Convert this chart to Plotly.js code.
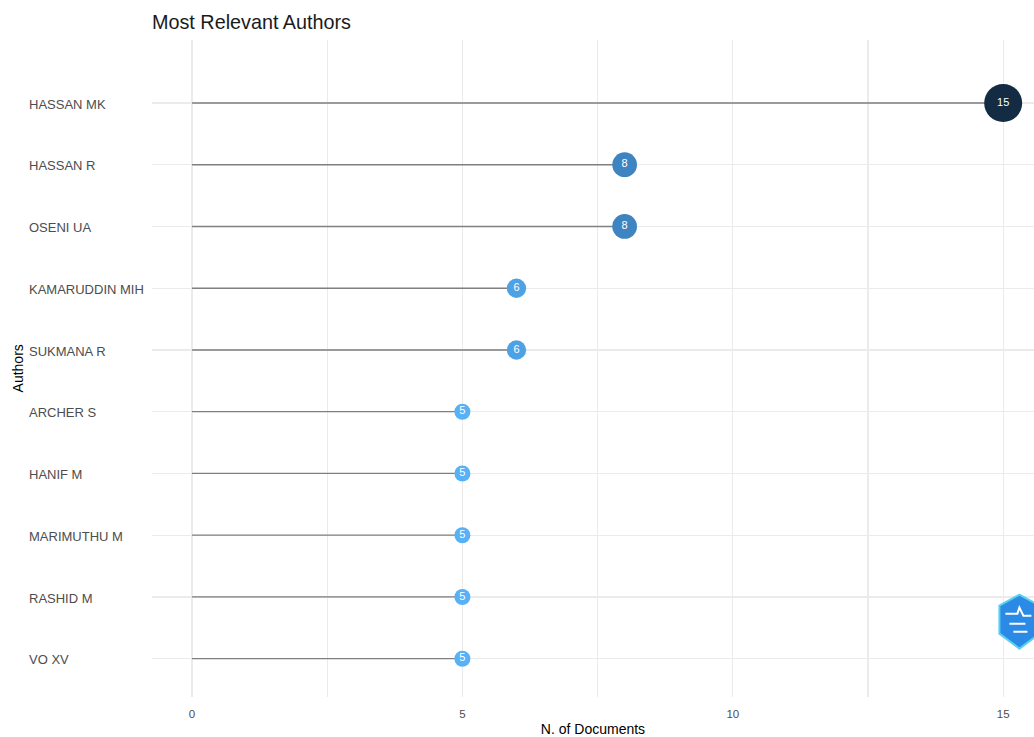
<!DOCTYPE html>
<html>
<head>
<meta charset="utf-8">
<script src="https://cdn.plot.ly/plotly-3.0.1.min.js"></script>
<style>html,body{margin:0;padding:0;background:#fff;}#chart{width:1034px;height:737px;}</style>
</head>
<body>
<div id="chart"></div>
<script>
// Data (top to bottom as shown)
const authors = ["HASSAN MK","HASSAN R","OSENI UA","KAMARUDDIN MIH","SUKMANA R","ARCHER S","HANIF M","MARIMUTHU M","RASHID M","VO XV"];
const documents = [15, 8, 8, 6, 6, 5, 5, 5, 5, 5];
const xTickVals = [0, 5, 10, 15];

const FONT = "Liberation Sans, Arial, sans-serif";
// plot from bottom to top: reverse so first author is on top
const cats = authors.slice().reverse();
const vals = documents.slice().reverse();
const ypos = cats.map((_, i) => i);

// lines from 0 to value
const lx = [], ly = [];
vals.forEach((v, i) => { lx.push(0, v, null); ly.push(i, i, null); });

// size scale (area linear in value, like ggplot scale_size)
const vmin = Math.min(...vals), vmax = Math.max(...vals);
const sizes = vals.map(v => Math.sqrt(16*16 + (38*38 - 16*16) * (v - vmin) / (vmax - vmin)));

const traces = [
  {
    x: lx, y: ly, type: "scatter", mode: "lines",
    line: {color: "#7f7f7f", width: 1.3},
    hoverinfo: "skip", showlegend: false
  },
  {
    x: vals, y: ypos, type: "scatter", mode: "markers+text",
    text: vals.map(String), textposition: "middle center",
    textfont: {color: "#ffffff", size: 11, family: FONT},
    marker: {
      size: sizes, color: vals, cmin: vmin, cmax: vmax,
      colorscale: [[0, "#56B1F7"], [0.1, "#4DA2E5"], [0.3, "#3E84C1"], [1, "#132B43"]],
      line: {width: 0}, opacity: 1
    },
    showlegend: false, cliponaxis: false
  }
];

const annotations = cats.map((a, i) => ({
  text: a, xref: "paper", x: -0.1417, xanchor: "left",
  yref: "y", y: i - 0.02, yanchor: "middle", showarrow: false,
  font: {family: FONT, size: 13, color: "#4d4d4d"}
}));
annotations.push({
  text: "Authors", xref: "paper", x: -0.152, xanchor: "center",
  yref: "paper", y: 0.5, yanchor: "middle", textangle: -90, showarrow: false,
  font: {family: FONT, size: 14, color: "#000000"}
});

const layout = {
  width: 1034, height: 737,
  margin: {l: 152, r: 0, t: 40, b: 40, pad: 0},
  paper_bgcolor: "#ffffff", plot_bgcolor: "#ffffff",
  title: {
    text: "Most Relevant Authors", x: 0, xref: "paper", xanchor: "left",
    y: 1 - 22/737, yref: "container", yanchor: "middle",
    font: {family: FONT, size: 19.8, color: "#1a1a1a"}
  },
  xaxis: {
    range: [-0.74, 15.57], tickvals: xTickVals, ticktext: xTickVals.map(String),
    showgrid: true, gridcolor: "#ebebeb", gridwidth: 1.1,
    minor: {dtick: 2.5, tick0: 0, showgrid: true, gridcolor: "#ebebeb", gridwidth: 1.1},
    zeroline: false, showline: false, ticks: "", ticklabelstandoff: 8,
    tickfont: {family: FONT, size: 11.5, color: "#4d4d4d"},
    title: {text: "N. of Documents", font: {family: FONT, size: 14, color: "#000000"}, standoff: 11},
    fixedrange: true
  },
  yaxis: {
    range: [-0.62, 10.02], tickvals: ypos, showticklabels: false,
    showgrid: true, gridcolor: "#ebebeb", gridwidth: 1.1,
    zeroline: false, showline: false, ticks: "", fixedrange: true
  },
  annotations: annotations,
  shapes: [
    {
      type: "path", xref: "x", yref: "y", xsizemode: "pixel", ysizemode: "pixel",
      xanchor: 15.3, yanchor: 0.6,
      path: "M 0 27 L 20 16 L 20 -12 L 0 -27 L -20 -12 L -20 16 Z",
      fillcolor: "#2a8ae6", line: {color: "#5ad0f0", width: 2}, layer: "above"
    },
    {
      type: "path", xref: "x", yref: "y", xsizemode: "pixel", ysizemode: "pixel",
      xanchor: 15.3, yanchor: 0.6,
      path: "M -14 8 L -2 8 L 0 14 L 4 6 L 12 6 M -10 -2 L 6 -2 M -6 -10 L 8 -10",
      line: {color: "#ffffff", width: 2}, layer: "above"
    }
  ]
};

Plotly.newPlot("chart", traces, layout, {displayModeBar: false, staticPlot: true});
</script>
</body>
</html>
